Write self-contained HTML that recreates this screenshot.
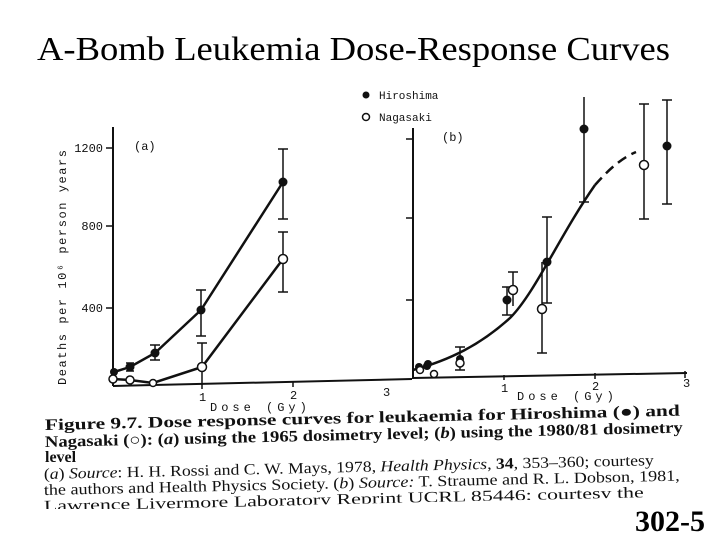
<!DOCTYPE html>
<html><head><meta charset="utf-8"><style>
html,body{margin:0;padding:0;background:#fff;width:720px;height:540px;overflow:hidden}
svg{display:block}
</style></head><body>
<svg width="720" height="540" viewBox="0 0 720 540" xmlns="http://www.w3.org/2000/svg">
<rect width="720" height="540" fill="#fff"/>
<text x="37" y="60" font-family="Liberation Serif, serif" font-size="34" textLength="633" lengthAdjust="spacingAndGlyphs">A-Bomb Leukemia Dose-Response Curves</text>

<g stroke="#111" fill="none">
<line x1="113" y1="127" x2="113" y2="386" stroke-width="2"/>
<line x1="113" y1="386" x2="412" y2="379" stroke-width="2"/>
<line x1="106" y1="148" x2="113" y2="148" stroke-width="1.5"/>
<line x1="106" y1="226" x2="113" y2="226" stroke-width="1.5"/>
<line x1="106" y1="308" x2="113" y2="308" stroke-width="1.5"/>
<line x1="202" y1="384" x2="202" y2="389" stroke-width="1.5"/>
<line x1="293" y1="382" x2="293" y2="387" stroke-width="1.5"/>
<line x1="413" y1="128" x2="413" y2="379" stroke-width="2"/>
<line x1="413" y1="378" x2="687" y2="373" stroke-width="2"/>
<line x1="406" y1="139" x2="413" y2="139" stroke-width="1.5"/>
<line x1="406" y1="218" x2="413" y2="218" stroke-width="1.5"/>
<line x1="406" y1="300" x2="413" y2="300" stroke-width="1.5"/>
<line x1="595" y1="373" x2="595" y2="379" stroke-width="1.5"/>
<line x1="685" y1="371" x2="685" y2="378" stroke-width="1.5"/>
<line x1="504" y1="375" x2="504" y2="380" stroke-width="1.5"/>

<polyline points="114,372 130,367 155,353 201,310 283,182" stroke-width="2.5"/>
<polyline points="113,379 130,380 153,383 202,367 283,259" stroke-width="2.5"/>
<g stroke-width="1.5">
<line x1="283" y1="149" x2="283" y2="219"/><line x1="278" y1="149" x2="288" y2="149"/><line x1="278" y1="219" x2="288" y2="219"/>
<line x1="201" y1="290" x2="201" y2="336"/><line x1="196" y1="290" x2="206" y2="290"/><line x1="196" y1="336" x2="206" y2="336"/>
<line x1="155" y1="345" x2="155" y2="360"/><line x1="150" y1="345" x2="160" y2="345"/><line x1="150" y1="360" x2="160" y2="360"/>
<line x1="130" y1="363" x2="130" y2="371"/><line x1="126" y1="363" x2="134" y2="363"/><line x1="126" y1="371" x2="134" y2="371"/>
<line x1="283" y1="232" x2="283" y2="292"/><line x1="278" y1="232" x2="288" y2="232"/><line x1="278" y1="292" x2="288" y2="292"/>
<line x1="202" y1="343" x2="202" y2="385"/><line x1="197" y1="343" x2="207" y2="343"/>
</g>

<path d="M413,370 C450,360 480,345 510,318 C535,293 560,235 595,185" stroke-width="2.5"/>
<path d="M595,185 C610,168 622,158 636,152" stroke-width="2.5" stroke-dasharray="10,6"/>
<g stroke-width="1.5">
<line x1="584" y1="97" x2="584" y2="202"/><line x1="579" y1="202" x2="589" y2="202"/>
<line x1="667" y1="100" x2="667" y2="204"/><line x1="662" y1="100" x2="672" y2="100"/><line x1="662" y1="204" x2="672" y2="204"/>
<line x1="644" y1="104" x2="644" y2="219"/><line x1="639" y1="104" x2="649" y2="104"/><line x1="639" y1="219" x2="649" y2="219"/>
<line x1="547" y1="217" x2="547" y2="303"/><line x1="542" y1="217" x2="552" y2="217"/><line x1="542" y1="303" x2="552" y2="303"/>
<line x1="542" y1="262" x2="542" y2="353"/><line x1="537" y1="353" x2="547" y2="353"/>
<line x1="513" y1="272" x2="513" y2="306"/><line x1="508" y1="272" x2="518" y2="272"/>
<line x1="507" y1="287" x2="507" y2="315"/><line x1="502" y1="287" x2="512" y2="287"/><line x1="502" y1="315" x2="512" y2="315"/>
<line x1="460" y1="347" x2="460" y2="370"/><line x1="455" y1="347" x2="465" y2="347"/><line x1="455" y1="370" x2="465" y2="370"/>
</g>
</g>

<g fill="#111">
<circle cx="114" cy="372" r="4"/><circle cx="130" cy="367" r="4.5"/><circle cx="155" cy="353" r="4.5"/><circle cx="201" cy="310" r="4.5"/><circle cx="283" cy="182" r="4.5"/>
<circle cx="419" cy="367" r="4"/><circle cx="427" cy="366" r="4"/><circle cx="428" cy="364" r="4"/><circle cx="460" cy="359" r="4"/>
<circle cx="507" cy="300" r="4.5"/><circle cx="547" cy="262" r="4.5"/><circle cx="584" cy="129" r="4.5"/><circle cx="667" cy="146" r="4.5"/>
<circle cx="366" cy="95" r="3.5"/>
</g>
<g fill="#fff" stroke="#111" stroke-width="1.5">
<circle cx="113" cy="379" r="4"/><circle cx="130" cy="380" r="4"/><circle cx="153" cy="383" r="3.5"/><circle cx="202" cy="367" r="4.5"/><circle cx="283" cy="259" r="4.5"/>
<circle cx="420" cy="370" r="3.5"/><circle cx="434" cy="374" r="3.5"/><circle cx="460" cy="363" r="4"/><circle cx="513" cy="290" r="4.5"/><circle cx="542" cy="309" r="4.5"/><circle cx="644" cy="165" r="4.5"/>
<circle cx="366" cy="117" r="3.5"/>
</g>

<g font-family="Liberation Mono, monospace" font-size="12" fill="#111">
<text x="379" y="99" font-size="11">Hiroshima</text>
<text x="379" y="121" font-size="11">Nagasaki</text>
<text x="134" y="150">(a)</text>
<text x="442" y="141">(b)</text>
<text x="103" y="152" text-anchor="end">1200</text>
<text x="103" y="230" text-anchor="end">800</text>
<text x="103" y="312" text-anchor="end">400</text>
<text x="199" y="401">1</text>
<text x="290" y="399">2</text>
<text x="383" y="396">3</text>
<text x="501" y="392">1</text>
<text x="592" y="390">2</text>
<text x="683" y="387">3</text>
<text x="210" y="411" letter-spacing="4">Dose (Gy)</text>
<text x="517" y="400" letter-spacing="4">Dose (Gy)</text>
<text transform="translate(66,385) rotate(-90)" textLength="235" lengthAdjust="spacing">Deaths per 10⁶ person years</text>
</g>

<g font-family="Liberation Serif, serif" font-size="16" font-weight="bold" fill="#111">
<text x="45" y="430" transform="rotate(-1.3 45 430)" textLength="635" lengthAdjust="spacingAndGlyphs">Figure 9.7.   Dose response curves for leukaemia for Hiroshima (●) and</text>
<text x="45" y="447" transform="rotate(-1.3 45 447)" textLength="638" lengthAdjust="spacingAndGlyphs">Nagasaki (○): (<tspan font-style="italic">a</tspan>) using the 1965 dosimetry level; (<tspan font-style="italic">b</tspan>) using the 1980/81 dosimetry</text>
<text x="45" y="462">level</text>
</g>
<g font-family="Liberation Serif, serif" font-size="15.5" fill="#111">
<text x="44" y="479" transform="rotate(-1.3 44 479)" textLength="610" lengthAdjust="spacingAndGlyphs">(<tspan font-style="italic">a</tspan>) <tspan font-style="italic">Source</tspan>: H. H. Rossi and C. W. Mays, 1978, <tspan font-style="italic">Health Physics</tspan>, <tspan font-weight="bold">34</tspan>, 353–360; courtesy</text>
<text x="44" y="495" transform="rotate(-1.3 44 495)" textLength="636" lengthAdjust="spacingAndGlyphs">the authors and Health Physics Society. (<tspan font-style="italic">b</tspan>) <tspan font-style="italic">Source:</tspan> T. Straume and R. L. Dobson, 1981,</text>
<text x="44" y="511" transform="rotate(-1.3 44 511)" textLength="600" lengthAdjust="spacingAndGlyphs">Lawrence Livermore Laboratory Reprint  UCRL 85446; courtesy the</text>
</g>
<polygon points="300,505 700,496 700,530 300,530" fill="#fff"/>
<rect x="40" y="509" width="300" height="20" fill="#fff"/>
<text x="705" y="531" text-anchor="end" font-family="Liberation Serif, serif" font-size="30" font-weight="bold" fill="#000">302-5</text>
</svg>
</body></html>
